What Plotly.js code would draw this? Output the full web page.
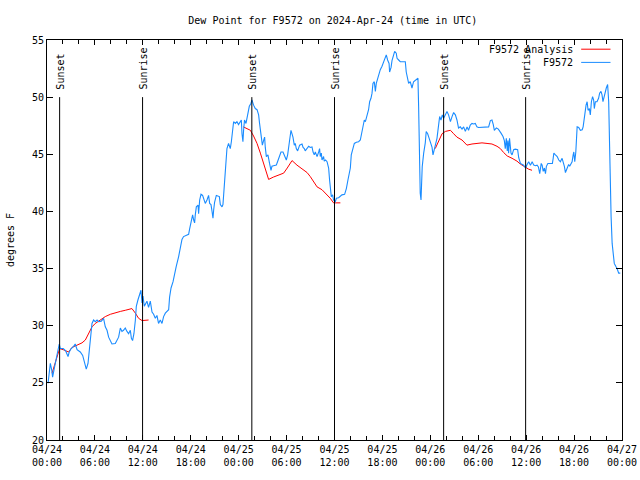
<!DOCTYPE html>
<html>
<head>
<meta charset="utf-8">
<script src="https://cdn.plot.ly/plotly-3.0.1.min.js"></script>
<style>html,body{margin:0;padding:0;background:#fff}#chart{width:640px;height:480px}</style>
</head>
<body>
<div id="chart"></div>
<script>
// ---- data (hours after 2024-04-24 00:00 UTC, dew point in degrees F) ----
const startTime = '2024-04-24T00:00:00Z';

const obsHours = [0.13,0.41,0.6,0.7,0.95,1.16,1.38,1.54,1.67,2.04,2.33,2.63,2.79,3.04,3.33,3.54,3.76,4.17,4.46,4.71,4.92,5.13,5.30,5.51,5.63,5.84,6.05,6.26,6.46,6.80,7.09,7.30,7.51,7.71,7.93,8.14,8.55,8.77,8.97,9.18,9.39,9.59,9.80,10.02,10.22,10.43,10.56,10.72,10.89,11.06,11.18,11.39,11.60,11.77,11.90,12.02,12.18,12.40,12.52,12.72,12.93,13.15,13.35,13.56,13.77,13.97,14.19,14.40,14.60,14.81,15.23,15.35,15.53,15.78,15.94,16.19,16.48,16.69,16.90,17.10,17.53,17.73,17.86,18.07,18.23,18.36,18.48,18.57,18.70,18.91,18.98,19.11,19.28,19.48,19.61,19.82,20.04,20.24,20.36,20.54,20.66,20.79,20.86,20.99,21.20,21.41,21.58,21.70,21.91,22.04,22.11,22.24,22.41,22.54,22.74,22.95,23.08,23.24,23.37,23.58,23.79,23.99,24.21,24.33,24.42,24.54,24.62,24.74,24.92,25.04,25.17,25.33,25.54,25.67,25.87,26.08,26.30,26.50,26.62,26.71,26.84,26.96,27.12,27.25,27.34,27.46,27.67,27.75,27.87,28.05,28.17,28.37,28.71,28.87,29.12,29.30,29.55,29.71,29.97,30.13,30.25,30.38,30.55,30.68,30.80,30.97,31.09,31.22,31.38,31.63,31.93,32.06,32.22,32.34,32.56,32.76,32.97,33.18,33.31,33.47,33.60,33.81,34.01,34.14,34.22,34.35,34.44,34.64,34.72,34.89,35.06,35.26,35.39,35.47,35.60,35.76,35.89,36.10,36.23,36.52,36.73,36.94,37.27,37.48,37.69,37.85,37.98,38.10,38.32,38.48,38.73,39.02,39.23,39.36,39.57,39.73,39.86,40.07,40.27,40.40,40.57,40.70,40.82,40.99,41.11,41.24,41.40,41.58,41.74,41.95,42.15,42.36,42.49,42.65,42.83,42.90,43.08,43.20,43.40,43.53,43.74,43.83,44.03,44.24,44.65,44.87,44.99,45.15,45.28,45.49,45.70,45.90,46.12,46.33,46.45,46.53,46.61,46.66,46.74,46.83,46.91,46.99,47.16,47.37,47.49,47.66,47.78,47.99,48.21,48.33,48.50,48.62,48.83,49.03,49.16,49.33,49.50,49.67,49.88,50.09,50.29,50.42,50.51,50.72,50.92,51.13,51.34,51.54,51.75,51.97,52.17,52.38,52.60,52.79,53.00,53.21,53.42,53.63,53.84,54.04,54.51,55.10,55.30,55.51,55.72,55.89,56.01,56.26,56.51,56.85,57.10,57.26,57.39,57.51,57.64,57.72,57.80,57.92,58.10,58.23,58.43,58.64,58.93,59.06,59.28,59.69,59.91,60.12,60.32,60.54,60.75,60.95,61.16,61.37,61.54,61.70,61.88,62.00,62.13,62.29,62.42,62.54,62.71,63.04,63.29,63.38,63.46,63.67,63.88,64.08,64.29,64.50,64.63,64.79,64.91,65.12,65.32,65.45,65.63,65.75,65.88,65.96,66.08,66.21,66.38,66.58,66.79,67.01,67.13,67.29,67.50,67.63,67.75,67.91,68.04,68.16,68.32,68.45,68.54,68.66,68.87,69.07,69.20,69.37,69.50,69.62,69.79,69.91,70.04,70.20,70.33,70.45,70.54,70.63,70.76,70.88,71.04,71.21,71.38,71.58,71.79];

const obsDew = [24.96,26.7,26.1,25.5,26.4,27.15,27.9,28.4,28.0,28.0,27.8,27.3,27.7,28.0,28.2,28.4,27.9,27.7,27.4,26.7,26.2,26.7,28.0,29.0,30.2,30.5,30.35,30.5,30.35,30.4,30.65,29.9,29.6,29.0,28.6,28.4,28.45,28.7,29.0,29.8,29.5,29.6,29.8,29.5,29.3,29.6,28.9,28.7,29.3,30.5,31.7,32.25,32.8,33.1,32.0,32.6,31.7,32.0,32.15,31.6,32.15,31.2,31.0,30.65,30.9,30.2,30.5,30.2,30.8,31.1,31.4,32.5,33.3,33.85,34.4,35.2,36.05,36.9,37.55,37.8,37.9,38.0,38.5,39.25,39.7,39.25,39.0,39.7,40.4,40.55,39.8,41.0,41.5,41.4,41.1,40.7,41.0,41.4,40.7,40.6,40.0,39.4,40.1,40.8,41.4,41.3,41.3,40.6,40.4,40.6,41.3,42.9,44.35,45.5,45.95,45.5,46.1,47.0,47.85,47.7,47.85,47.6,47.85,48.0,46.8,46.1,47.1,48.0,47.7,48.05,48.6,49.2,49.45,49.75,49.3,49.0,48.9,48.45,47.7,47.1,46.5,45.8,46.2,46.5,45.6,44.8,44.95,44.5,44.2,43.6,43.95,44.0,44.05,44.35,44.95,45.2,45.2,44.95,44.5,44.95,45.4,46.25,47.1,46.8,46.5,45.8,45.95,45.5,45.3,45.8,45.9,45.6,45.5,45.3,45.5,45.7,45.6,45.65,45.2,44.95,45.2,44.8,45.2,45.5,44.8,45.1,44.5,44.8,44.4,44.5,44.35,43.8,42.75,41.9,41.3,41.45,41.0,40.85,41.15,41.2,41.35,41.45,41.5,42.0,42.75,43.5,43.8,44.95,45.5,45.95,46.05,46.1,46.25,46.8,47.7,48.0,47.85,48.3,48.9,49.6,49.9,50.35,51.2,51.35,50.5,51.2,51.65,52.1,52.4,52.7,53.1,53.55,53.7,53.25,52.95,52.2,52.6,53.2,53.7,54.0,53.85,53.4,53.25,53.1,53.1,53.1,52.2,51.5,51.2,51.35,50.8,51.35,51.5,51.65,51.65,49.2,43.9,43.05,41.6,41.0,42.7,43.9,45.1,46.0,47.0,46.8,46.55,46.1,45.6,44.95,45.4,45.95,46.4,47.55,48.3,48.0,48.45,48.15,48.45,48.75,48.45,48.0,47.85,48.3,48.65,48.45,48.0,47.3,47.4,47.2,47.4,47.0,47.4,47.1,47.55,47.7,47.65,47.7,47.4,47.35,47.35,47.35,47.4,47.95,48.0,47.6,47.1,47.3,47.2,46.85,46.55,46.2,45.5,46.4,45.3,46.2,45.1,46.4,45.1,44.95,45.4,45.45,45.4,44.7,44.2,44.05,43.8,44.1,44.35,44.05,44.35,44.05,44.0,44.05,43.9,43.3,44.2,44.05,43.5,43.8,43.3,43.95,44.2,44.2,44.2,44.65,45.1,44.95,44.8,44.5,44.35,44.65,44.35,43.95,43.4,43.8,44.1,43.95,44.2,44.35,44.95,45.2,44.35,45.2,47.4,47.35,47.1,47.15,47.4,48.3,49.3,49.6,48.85,49.0,48.45,49.6,50.05,49.75,49.0,49.6,49.6,49.9,50.35,50.5,50.2,49.6,50.2,50.5,50.8,51.1,49.6,45.65,42.2,39.55,37.2,36.05,35.45,35.2,35.0,34.6,34.6];

// analysis series: three runs separated by null
const anaHours = [0.63,0.91,1.16,1.58,2.04,2.70,3.13,3.76,4.38,4.80,5.21,5.63,6.05,6.67,7.30,7.93,8.55,9.18,9.80,10.64,11.06,11.47,11.90,12.72,
  null,
  24.58,25.46,25.87,26.30,26.71,27.12,27.46,27.75,28.34,29.00,29.63,30.09,30.68,31.30,31.93,32.56,32.97,33.38,33.81,34.44,35.06,35.47,35.89,36.73,
  null,
  48.62,49.03,49.46,49.88,50.51,50.92,51.34,51.97,52.59,53.22,53.84,54.47,55.10,55.72,56.35,56.76,57.18,57.64,58.23,58.85,59.27,59.89,60.30,60.73];
const anaDew = [25.85,26.5,27.2,28.0,27.9,27.7,28.1,28.3,28.5,28.75,29.3,29.9,30.2,30.5,30.8,31.0,31.15,31.25,31.35,31.5,31.1,30.65,30.45,30.5,
  null,
  47.4,47.1,46.6,45.95,45.1,44.2,43.5,42.8,43.0,43.2,43.35,43.8,44.45,44.05,43.7,43.4,43.05,42.6,42.15,41.9,41.45,41.15,40.75,40.75,
  null,
  45.5,46.1,46.8,47.0,47.1,46.8,46.5,46.25,45.8,45.9,45.95,46.0,45.95,45.9,45.7,45.5,45.15,44.85,44.65,44.4,44.15,43.85,43.7,43.6];

const eventHours = [1.58, 11.97, 25.65, 36.0, 49.66, 59.93];
const eventLabels = ['Sunset','Sunrise','Sunset','Sunrise','Sunset','Sunrise'];

const seriesNames = ['F9572 Analysis', 'F9572'];
const seriesColors = ['#ff0000', '#1a8cff'];

// ---- helpers ----
const base = Date.parse(startTime);
function toTime(h) {
  if (h === null) return null;
  const d = new Date(base + Math.round(h * 60) * 60000);
  return d.toISOString().slice(0, 16).replace('T', ' ');
}

const font = {family: 'DejaVu Sans Mono, Liberation Mono, monospace', size: 10, color: '#000'};

const traces = [
  {x: anaHours.map(toTime), y: anaDew, name: seriesNames[0], type: 'scatter', mode: 'lines',
   line: {color: seriesColors[0], width: 1}, connectgaps: false},
  {x: obsHours.map(toTime), y: obsDew, name: seriesNames[1], type: 'scatter', mode: 'lines',
   line: {color: seriesColors[1], width: 1.1}}
];

const shapes = eventHours.map(h => ({
  type: 'line', xref: 'x', yref: 'y', x0: toTime(h), x1: toTime(h), y0: 20, y1: 50,
  line: {color: '#000', width: 1}
}));
const annotations = eventHours.map((h, i) => ({
  x: toTime(h), y: 50.45, xref: 'x', yref: 'y', text: eventLabels[i], showarrow: false,
  textangle: -90, xanchor: 'center', yanchor: 'bottom', font: font
}));

// gnuplot-style legend: text right, sample line after it
const legendRows = [0.977, 0.944];
seriesNames.forEach((n, i) => {
  annotations.push({x: 0.919, y: legendRows[i], xref: 'paper', yref: 'paper', text: n,
    showarrow: false, xanchor: 'right', yanchor: 'middle', font: font});
  shapes.push({type: 'line', xref: 'paper', yref: 'paper', x0: 0.929, x1: 0.98,
    y0: legendRows[i], y1: legendRows[i], line: {color: seriesColors[i], width: 1}});
});

const layout = {
  width: 640, height: 480,
  margin: {l: 47, r: 18, t: 40, b: 40, pad: 0},
  paper_bgcolor: '#fff', plot_bgcolor: '#fff',
  font: font,
  showlegend: false,
  title: {text: 'Dew Point for F9572 on 2024-Apr-24 (time in UTC)', font: font,
          x: 0.52, xanchor: 'center', y: 0.958, yanchor: 'middle'},
  xaxis: {
    type: 'date', range: ['2024-04-24 00:00', '2024-04-27 00:00'],
    tick0: '2024-04-24 00:00', dtick: 6 * 3600000, tickformat: '%m/%d<br>%H:%M',
    ticks: 'inside', ticklen: 5, tickcolor: '#000', tickwidth: 1,
    minor: {dtick: 2 * 3600000, ticks: 'inside', ticklen: 4, tickcolor: '#000'},
    showline: true, linecolor: '#000', linewidth: 1, mirror: 'allticks',
    showgrid: false, zeroline: false, automargin: false, tickfont: font
  },
  yaxis: {
    range: [20, 55], dtick: 5, tick0: 20,
    ticks: 'inside', ticklen: 6, tickcolor: '#000', tickwidth: 1,
    showline: true, linecolor: '#000', linewidth: 1, mirror: 'allticks',
    showgrid: false, zeroline: false, automargin: false, tickfont: font,
    title: {text: 'degrees F', font: font, standoff: 15}
  },
  shapes: shapes,
  annotations: annotations
};

Plotly.newPlot('chart', traces, layout, {staticPlot: true, displayModeBar: false});
</script>
</body>
</html>
